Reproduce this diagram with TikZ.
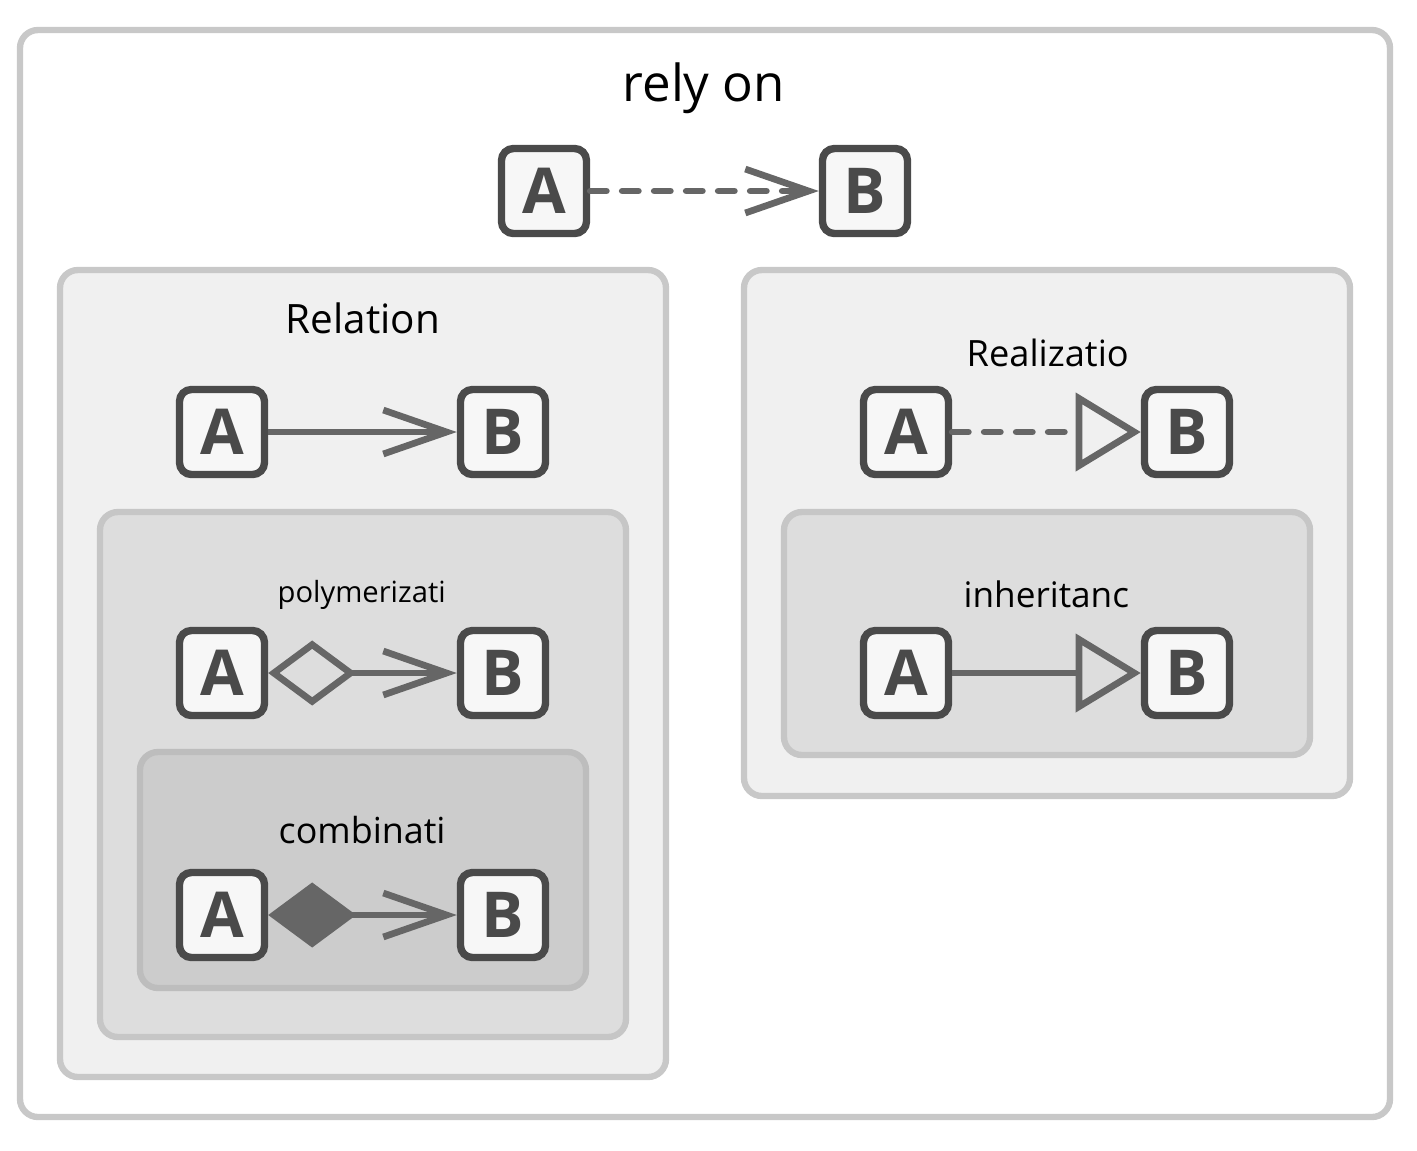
\documentclass[tikz,border=0pt]{standalone}
\usepackage{fontspec}
\setmainfont{Open Sans}
\usetikzlibrary{arrows.meta}

\definecolor{frameline}{HTML}{C8C8C8}
\definecolor{lvlone}{HTML}{F0F0F0}
\definecolor{lvltwo}{HTML}{DDDDDD}
\definecolor{lvltwoline}{HTML}{C6C6C6}
\definecolor{lvlthree}{HTML}{CCCCCC}
\definecolor{lvlthreeline}{HTML}{BDBDBD}
\definecolor{boxline}{HTML}{4A4A4A}
\definecolor{boxfill}{HTML}{F7F7F7}
\definecolor{linkcol}{HTML}{666666}

\tikzset{
  frame/.style={draw=frameline, line width=1.8pt, rounded corners=0.18cm},
  lbl/.style={inner sep=0pt, anchor=base west, text=black},
  cls/.style={draw=boxline, fill=boxfill, line width=2.1pt, rounded corners=0.12cm,
              minimum size=0.85cm, inner sep=0pt, text=boxline,
              font=\fontsize{18}{20}\selectfont\bfseries},
  link/.style={draw=linkcol, line width=1.9pt},
  dashlink/.style={link, line cap=round, dash pattern=on 4.6pt off 4.5pt},
  barb/.style={-{Straight Barb[length=18pt, width=12.5pt]}},
  hollow/.style={-{Triangle[open, length=18.5pt, width=22pt]}},
  agg/.style={{Diamond[open, length=25pt, width=18.5pt]}-{Straight Barb[length=18pt, width=12.5pt]}},
  comp/.style={{Diamond[fill=linkcol, length=25pt, width=18.5pt]}-{Straight Barb[length=18pt, width=12.5pt]}}
}

\begin{document}
\begin{tikzpicture}[x=0.01cm, y=-0.01cm]
\useasboundingbox (0,0) rectangle (1417,1150);

% containers
\draw[frame, fill=white] (20,30) rectangle (1390,1117);
\draw[frame, fill=lvlone] (60,270) rectangle (666,1077);
\draw[frame, draw=lvltwoline, fill=lvltwo] (100,512) rectangle (626,1037);
\draw[frame, draw=lvlthreeline, fill=lvlthree] (140,752) rectangle (586,988);
\draw[frame, fill=lvlone] (744,270) rectangle (1350,796);
\draw[frame, draw=lvltwoline, fill=lvltwo] (784,512) rectangle (1310,755);

% titles
\node[lbl, font=\fontsize{14.5}{17}\selectfont] (tdep) at (622,101) {rely on};
\node[lbl, font=\fontsize{11.5}{14}\selectfont] (trel) at (285,333) {Relation};
\node[lbl, font=\fontsize{8.3}{10}\selectfont] (tpoly) at (277,602) {polymerizati};
\node[lbl, font=\fontsize{10.2}{12}\selectfont] (tcomb) at (278,843) {combinati};
\node[lbl, font=\fontsize{10.3}{12}\selectfont] (treal) at (966,366) {Realizatio};
\node[lbl, font=\fontsize{10}{12}\selectfont] (tinh) at (963,607) {inheritanc};

\begin{scope}[every node/.style={cls}]
\node (depA) at (544,191) {A};
\node (depB) at (865,191) {B};
\node (relA) at (222,432) {A};
\node (relB) at (503,432) {B};
\node (polyA) at (222,673) {A};
\node (polyB) at (503,673) {B};
\node (combA) at (222,915) {A};
\node (combB) at (503,915) {B};
\node (realA) at (906,432) {A};
\node (realB) at (1187,432) {B};
\node (inhA) at (906,673) {A};
\node (inhB) at (1187,673) {B};
\end{scope}

\path[dashlink, barb] (depA) edge (depB);
\path[link, barb] (relA) edge (relB);
\path[link, agg] (polyA) edge (polyB);
\path[link, comp] (combA) edge (combB);
\path[dashlink, hollow] (realA) edge (realB);
\path[link, hollow] (inhA) edge (inhB);
\end{tikzpicture}
\end{document}
